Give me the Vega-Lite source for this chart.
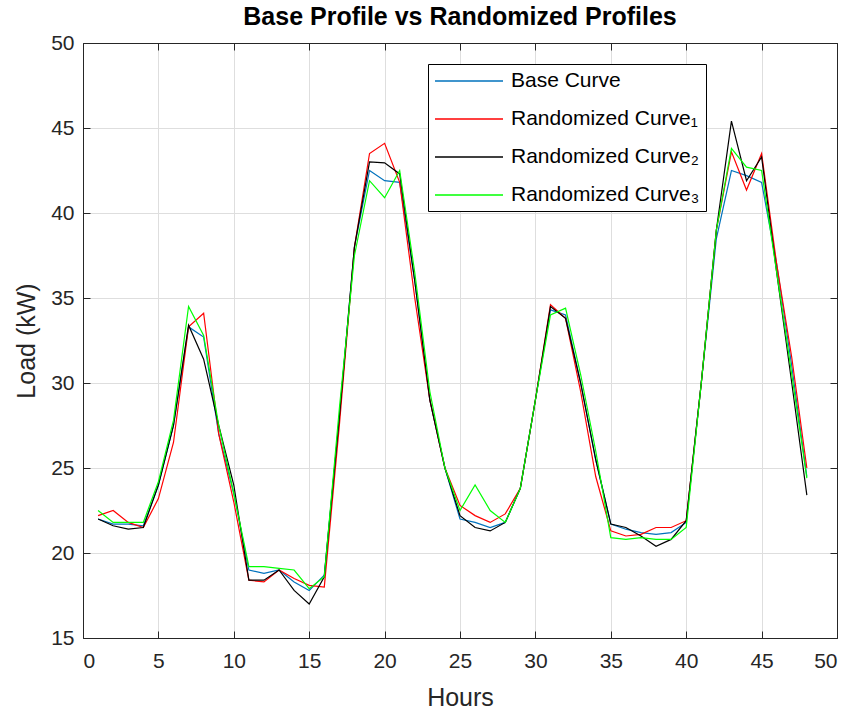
{
  "$schema": "https://vega.github.io/schema/vega-lite/v6.json",
  "width": 754,
  "height": 595,
  "autosize": {"type": "none"},
  "padding": {"left": 83, "top": 43, "right": 18, "bottom": 77},
  "background": "white",
  "title": {
    "text": "Base Profile vs Randomized Profiles",
    "font": "Liberation Sans",
    "fontSize": 25,
    "fontWeight": "bold",
    "color": "#000000",
    "anchor": "middle",
    "offset": 2
  },
  "config": {
    "view": {"stroke": "#262626", "strokeWidth": 1},
    "axis": {
      "labelFont": "Liberation Sans",
      "labelFontSize": 21,
      "labelColor": "#262626",
      "titleFont": "Liberation Sans",
      "titleFontSize": 25,
      "titleFontWeight": "normal",
      "titleColor": "#262626",
      "domainColor": "#262626",
      "tickColor": "#262626",
      "gridColor": "#dedede",
      "gridWidth": 1
    }
  },
  "data": {
    "values": [
      {"hour": 1, "series": "Base Curve", "load": 22.0},
      {"hour": 2, "series": "Base Curve", "load": 21.7},
      {"hour": 3, "series": "Base Curve", "load": 21.7},
      {"hour": 4, "series": "Base Curve", "load": 21.6},
      {"hour": 5, "series": "Base Curve", "load": 24.0},
      {"hour": 6, "series": "Base Curve", "load": 27.5},
      {"hour": 7, "series": "Base Curve", "load": 33.3},
      {"hour": 8, "series": "Base Curve", "load": 32.7},
      {"hour": 9, "series": "Base Curve", "load": 27.0},
      {"hour": 10, "series": "Base Curve", "load": 23.5},
      {"hour": 11, "series": "Base Curve", "load": 19.0},
      {"hour": 12, "series": "Base Curve", "load": 18.8},
      {"hour": 13, "series": "Base Curve", "load": 19.0},
      {"hour": 14, "series": "Base Curve", "load": 18.3},
      {"hour": 15, "series": "Base Curve", "load": 17.8},
      {"hour": 16, "series": "Base Curve", "load": 18.7},
      {"hour": 17, "series": "Base Curve", "load": 28.0},
      {"hour": 18, "series": "Base Curve", "load": 38.0},
      {"hour": 19, "series": "Base Curve", "load": 42.5},
      {"hour": 20, "series": "Base Curve", "load": 41.9},
      {"hour": 21, "series": "Base Curve", "load": 41.8},
      {"hour": 22, "series": "Base Curve", "load": 36.0},
      {"hour": 23, "series": "Base Curve", "load": 29.0},
      {"hour": 24, "series": "Base Curve", "load": 25.0},
      {"hour": 25, "series": "Base Curve", "load": 22.0},
      {"hour": 26, "series": "Base Curve", "load": 21.8},
      {"hour": 27, "series": "Base Curve", "load": 21.5},
      {"hour": 28, "series": "Base Curve", "load": 21.8},
      {"hour": 29, "series": "Base Curve", "load": 23.8},
      {"hour": 30, "series": "Base Curve", "load": 29.0},
      {"hour": 31, "series": "Base Curve", "load": 34.3},
      {"hour": 32, "series": "Base Curve", "load": 34.0},
      {"hour": 33, "series": "Base Curve", "load": 30.0},
      {"hour": 34, "series": "Base Curve", "load": 25.5},
      {"hour": 35, "series": "Base Curve", "load": 21.7},
      {"hour": 36, "series": "Base Curve", "load": 21.4},
      {"hour": 37, "series": "Base Curve", "load": 21.2},
      {"hour": 38, "series": "Base Curve", "load": 21.1},
      {"hour": 39, "series": "Base Curve", "load": 21.2},
      {"hour": 40, "series": "Base Curve", "load": 21.8},
      {"hour": 41, "series": "Base Curve", "load": 30.0},
      {"hour": 42, "series": "Base Curve", "load": 38.5},
      {"hour": 43, "series": "Base Curve", "load": 42.5},
      {"hour": 44, "series": "Base Curve", "load": 42.2},
      {"hour": 45, "series": "Base Curve", "load": 41.8},
      {"hour": 46, "series": "Base Curve", "load": 37.0},
      {"hour": 47, "series": "Base Curve", "load": 31.0},
      {"hour": 48, "series": "Base Curve", "load": 24.5},

      {"hour": 1, "series": "Randomized Curve₁", "load": 22.2},
      {"hour": 2, "series": "Randomized Curve₁", "load": 22.5},
      {"hour": 3, "series": "Randomized Curve₁", "load": 21.8},
      {"hour": 4, "series": "Randomized Curve₁", "load": 21.5},
      {"hour": 5, "series": "Randomized Curve₁", "load": 23.2},
      {"hour": 6, "series": "Randomized Curve₁", "load": 26.5},
      {"hour": 7, "series": "Randomized Curve₁", "load": 33.3},
      {"hour": 8, "series": "Randomized Curve₁", "load": 34.1},
      {"hour": 9, "series": "Randomized Curve₁", "load": 27.0},
      {"hour": 10, "series": "Randomized Curve₁", "load": 23.0},
      {"hour": 11, "series": "Randomized Curve₁", "load": 18.4},
      {"hour": 12, "series": "Randomized Curve₁", "load": 18.3},
      {"hour": 13, "series": "Randomized Curve₁", "load": 19.0},
      {"hour": 14, "series": "Randomized Curve₁", "load": 18.5},
      {"hour": 15, "series": "Randomized Curve₁", "load": 18.1},
      {"hour": 16, "series": "Randomized Curve₁", "load": 18.0},
      {"hour": 17, "series": "Randomized Curve₁", "load": 27.5},
      {"hour": 18, "series": "Randomized Curve₁", "load": 38.0},
      {"hour": 19, "series": "Randomized Curve₁", "load": 43.5},
      {"hour": 20, "series": "Randomized Curve₁", "load": 44.1},
      {"hour": 21, "series": "Randomized Curve₁", "load": 41.8},
      {"hour": 22, "series": "Randomized Curve₁", "load": 35.0},
      {"hour": 23, "series": "Randomized Curve₁", "load": 29.0},
      {"hour": 24, "series": "Randomized Curve₁", "load": 25.0},
      {"hour": 25, "series": "Randomized Curve₁", "load": 22.8},
      {"hour": 26, "series": "Randomized Curve₁", "load": 22.2},
      {"hour": 27, "series": "Randomized Curve₁", "load": 21.8},
      {"hour": 28, "series": "Randomized Curve₁", "load": 22.3},
      {"hour": 29, "series": "Randomized Curve₁", "load": 23.8},
      {"hour": 30, "series": "Randomized Curve₁", "load": 29.0},
      {"hour": 31, "series": "Randomized Curve₁", "load": 34.6},
      {"hour": 32, "series": "Randomized Curve₁", "load": 33.8},
      {"hour": 33, "series": "Randomized Curve₁", "load": 29.5},
      {"hour": 34, "series": "Randomized Curve₁", "load": 24.5},
      {"hour": 35, "series": "Randomized Curve₁", "load": 21.3},
      {"hour": 36, "series": "Randomized Curve₁", "load": 21.0},
      {"hour": 37, "series": "Randomized Curve₁", "load": 21.1},
      {"hour": 38, "series": "Randomized Curve₁", "load": 21.5},
      {"hour": 39, "series": "Randomized Curve₁", "load": 21.5},
      {"hour": 40, "series": "Randomized Curve₁", "load": 21.9},
      {"hour": 41, "series": "Randomized Curve₁", "load": 30.0},
      {"hour": 42, "series": "Randomized Curve₁", "load": 39.0},
      {"hour": 43, "series": "Randomized Curve₁", "load": 43.6},
      {"hour": 44, "series": "Randomized Curve₁", "load": 41.35},
      {"hour": 45, "series": "Randomized Curve₁", "load": 43.5},
      {"hour": 46, "series": "Randomized Curve₁", "load": 37.0},
      {"hour": 47, "series": "Randomized Curve₁", "load": 31.5},
      {"hour": 48, "series": "Randomized Curve₁", "load": 25.0},

      {"hour": 1, "series": "Randomized Curve₂", "load": 22.0},
      {"hour": 2, "series": "Randomized Curve₂", "load": 21.6},
      {"hour": 3, "series": "Randomized Curve₂", "load": 21.4},
      {"hour": 4, "series": "Randomized Curve₂", "load": 21.5},
      {"hour": 5, "series": "Randomized Curve₂", "load": 24.0},
      {"hour": 6, "series": "Randomized Curve₂", "load": 27.5},
      {"hour": 7, "series": "Randomized Curve₂", "load": 33.4},
      {"hour": 8, "series": "Randomized Curve₂", "load": 31.4},
      {"hour": 9, "series": "Randomized Curve₂", "load": 27.5},
      {"hour": 10, "series": "Randomized Curve₂", "load": 24.0},
      {"hour": 11, "series": "Randomized Curve₂", "load": 18.4},
      {"hour": 12, "series": "Randomized Curve₂", "load": 18.4},
      {"hour": 13, "series": "Randomized Curve₂", "load": 19.0},
      {"hour": 14, "series": "Randomized Curve₂", "load": 17.8},
      {"hour": 15, "series": "Randomized Curve₂", "load": 17.0},
      {"hour": 16, "series": "Randomized Curve₂", "load": 18.6},
      {"hour": 17, "series": "Randomized Curve₂", "load": 28.0},
      {"hour": 18, "series": "Randomized Curve₂", "load": 38.0},
      {"hour": 19, "series": "Randomized Curve₂", "load": 43.0},
      {"hour": 20, "series": "Randomized Curve₂", "load": 42.95},
      {"hour": 21, "series": "Randomized Curve₂", "load": 42.3},
      {"hour": 22, "series": "Randomized Curve₂", "load": 36.0},
      {"hour": 23, "series": "Randomized Curve₂", "load": 29.0},
      {"hour": 24, "series": "Randomized Curve₂", "load": 25.0},
      {"hour": 25, "series": "Randomized Curve₂", "load": 22.2},
      {"hour": 26, "series": "Randomized Curve₂", "load": 21.5},
      {"hour": 27, "series": "Randomized Curve₂", "load": 21.3},
      {"hour": 28, "series": "Randomized Curve₂", "load": 21.8},
      {"hour": 29, "series": "Randomized Curve₂", "load": 23.8},
      {"hour": 30, "series": "Randomized Curve₂", "load": 29.0},
      {"hour": 31, "series": "Randomized Curve₂", "load": 34.5},
      {"hour": 32, "series": "Randomized Curve₂", "load": 33.8},
      {"hour": 33, "series": "Randomized Curve₂", "load": 30.0},
      {"hour": 34, "series": "Randomized Curve₂", "load": 25.5},
      {"hour": 35, "series": "Randomized Curve₂", "load": 21.7},
      {"hour": 36, "series": "Randomized Curve₂", "load": 21.5},
      {"hour": 37, "series": "Randomized Curve₂", "load": 21.0},
      {"hour": 38, "series": "Randomized Curve₂", "load": 20.4},
      {"hour": 39, "series": "Randomized Curve₂", "load": 20.8},
      {"hour": 40, "series": "Randomized Curve₂", "load": 21.9},
      {"hour": 41, "series": "Randomized Curve₂", "load": 30.0},
      {"hour": 42, "series": "Randomized Curve₂", "load": 39.0},
      {"hour": 43, "series": "Randomized Curve₂", "load": 45.4},
      {"hour": 44, "series": "Randomized Curve₂", "load": 41.9},
      {"hour": 45, "series": "Randomized Curve₂", "load": 43.3},
      {"hour": 46, "series": "Randomized Curve₂", "load": 36.5},
      {"hour": 47, "series": "Randomized Curve₂", "load": 30.0},
      {"hour": 48, "series": "Randomized Curve₂", "load": 23.4},

      {"hour": 1, "series": "Randomized Curve₃", "load": 22.5},
      {"hour": 2, "series": "Randomized Curve₃", "load": 21.8},
      {"hour": 3, "series": "Randomized Curve₃", "load": 21.8},
      {"hour": 4, "series": "Randomized Curve₃", "load": 21.8},
      {"hour": 5, "series": "Randomized Curve₃", "load": 24.2},
      {"hour": 6, "series": "Randomized Curve₃", "load": 27.8},
      {"hour": 7, "series": "Randomized Curve₃", "load": 34.5},
      {"hour": 8, "series": "Randomized Curve₃", "load": 32.8},
      {"hour": 9, "series": "Randomized Curve₃", "load": 27.5},
      {"hour": 10, "series": "Randomized Curve₃", "load": 23.5},
      {"hour": 11, "series": "Randomized Curve₃", "load": 19.2},
      {"hour": 12, "series": "Randomized Curve₃", "load": 19.2},
      {"hour": 13, "series": "Randomized Curve₃", "load": 19.1},
      {"hour": 14, "series": "Randomized Curve₃", "load": 19.0},
      {"hour": 15, "series": "Randomized Curve₃", "load": 17.9},
      {"hour": 16, "series": "Randomized Curve₃", "load": 18.6},
      {"hour": 17, "series": "Randomized Curve₃", "load": 28.5},
      {"hour": 18, "series": "Randomized Curve₃", "load": 37.5},
      {"hour": 19, "series": "Randomized Curve₃", "load": 41.9},
      {"hour": 20, "series": "Randomized Curve₃", "load": 40.9},
      {"hour": 21, "series": "Randomized Curve₃", "load": 42.5},
      {"hour": 22, "series": "Randomized Curve₃", "load": 36.5},
      {"hour": 23, "series": "Randomized Curve₃", "load": 29.5},
      {"hour": 24, "series": "Randomized Curve₃", "load": 25.0},
      {"hour": 25, "series": "Randomized Curve₃", "load": 22.5},
      {"hour": 26, "series": "Randomized Curve₃", "load": 24.0},
      {"hour": 27, "series": "Randomized Curve₃", "load": 22.5},
      {"hour": 28, "series": "Randomized Curve₃", "load": 21.8},
      {"hour": 29, "series": "Randomized Curve₃", "load": 23.8},
      {"hour": 30, "series": "Randomized Curve₃", "load": 29.0},
      {"hour": 31, "series": "Randomized Curve₃", "load": 34.0},
      {"hour": 32, "series": "Randomized Curve₃", "load": 34.4},
      {"hour": 33, "series": "Randomized Curve₃", "load": 30.5},
      {"hour": 34, "series": "Randomized Curve₃", "load": 26.0},
      {"hour": 35, "series": "Randomized Curve₃", "load": 20.9},
      {"hour": 36, "series": "Randomized Curve₃", "load": 20.8},
      {"hour": 37, "series": "Randomized Curve₃", "load": 20.9},
      {"hour": 38, "series": "Randomized Curve₃", "load": 20.8},
      {"hour": 39, "series": "Randomized Curve₃", "load": 20.8},
      {"hour": 40, "series": "Randomized Curve₃", "load": 21.5},
      {"hour": 41, "series": "Randomized Curve₃", "load": 30.0},
      {"hour": 42, "series": "Randomized Curve₃", "load": 39.0},
      {"hour": 43, "series": "Randomized Curve₃", "load": 43.8},
      {"hour": 44, "series": "Randomized Curve₃", "load": 42.7},
      {"hour": 45, "series": "Randomized Curve₃", "load": 42.5},
      {"hour": 46, "series": "Randomized Curve₃", "load": 36.5},
      {"hour": 47, "series": "Randomized Curve₃", "load": 30.5},
      {"hour": 48, "series": "Randomized Curve₃", "load": 24.4}
    ]
  },
  "layer": [
    {
      "mark": {"type": "line", "strokeWidth": 1.2, "clip": true},
      "encoding": {
        "x": {
          "field": "hour",
          "type": "quantitative",
          "scale": {"domain": [0, 50], "nice": false, "zero": false},
          "axis": {
            "title": "Hours",
            "values": [0, 5, 10, 15, 20, 25, 30, 35, 40, 45, 50],
            "tickSize": -7,
            "labelPadding": 19,
            "titlePadding": 14,
            "domain": true
          }
        },
        "y": {
          "field": "load",
          "type": "quantitative",
          "scale": {"domain": [15, 50], "nice": false, "zero": false},
          "axis": {
            "title": "Load (kW)",
            "values": [15, 20, 25, 30, 35, 40, 45, 50],
            "tickSize": -7,
            "labelPadding": 16,
            "titlePadding": 11,
            "domain": true
          }
        },
        "color": {
          "field": "series",
          "type": "nominal",
          "scale": {
            "domain": ["Base Curve", "Randomized Curve₁", "Randomized Curve₂", "Randomized Curve₃"],
            "range": ["#0072BD", "#FF0000", "#000000", "#00FF00"]
          },
          "legend": {
            "title": null,
            "orient": "none",
            "legendX": 345,
            "legendY": 21,
            "symbolType": "M-1,0H5.8",
            "symbolSize": 400,
            "symbolStrokeWidth": 1.3,
            "labelFont": "Liberation Sans",
            "labelFontSize": 21,
            "labelColor": "#000000",
            "labelLimit": 400,
            "labelOffset": 55,
            "rowPadding": 17,
            "padding": 6,
            "strokeColor": "#000000",
            "fillColor": "#ffffff",
            "cornerRadius": 0
          }
        }
      }
    },
    {
      "mark": {"type": "line", "opacity": 0},
      "encoding": {
        "x": {
          "field": "hour",
          "type": "quantitative",
          "axis": {
            "orient": "top",
            "title": null,
            "labels": false,
            "grid": false,
            "values": [0, 5, 10, 15, 20, 25, 30, 35, 40, 45, 50],
            "tickSize": -7
          }
        },
        "y": {
          "field": "load",
          "type": "quantitative",
          "axis": {
            "orient": "right",
            "title": null,
            "labels": false,
            "grid": false,
            "values": [15, 20, 25, 30, 35, 40, 45, 50],
            "tickSize": -7
          }
        },
        "detail": {"field": "series"}
      }
    }
  ],
  "resolve": {"axis": {"x": "independent", "y": "independent"}}
}
